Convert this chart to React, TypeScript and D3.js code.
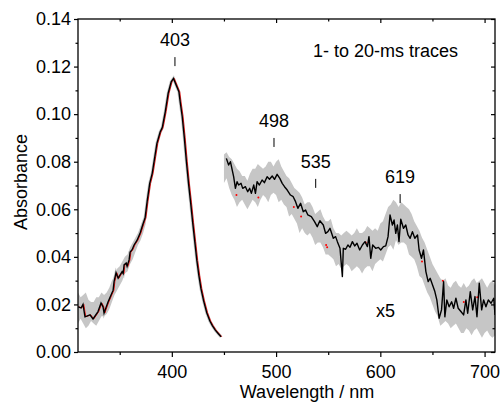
import React, { useEffect, useRef } from 'react';
import * as d3 from 'd3';

// Soret band trace (measured as is)
const soretWl = [310, 312.9, 314.8, 316.7, 321.5, 324.4, 329.2, 332.1, 334, 335, 338.8, 341.7, 343.7, 344.6, 346.5, 348.5, 350.4, 352.3, 353.3, 354.2, 356.2, 357.1, 359, 360, 361.9, 363.8, 366.7, 369.6, 372.5, 374.4, 376.3, 378.8, 381.2, 383.7, 385.7, 388.8, 390.5, 391, 393.7, 396.5, 399.4, 401.6, 404.2, 406.8, 408, 410, 412, 414, 416, 418, 420, 422, 424, 426, 428, 430.5, 433.5, 436.5, 439, 441.7, 444, 447.2];
const soretAbs = [0.019, 0.0185, 0.020, 0.0148, 0.0156, 0.0139, 0.017, 0.0206, 0.019, 0.0164, 0.021, 0.024, 0.026, 0.0296, 0.0333, 0.031, 0.0324, 0.0338, 0.033, 0.0366, 0.0374, 0.036, 0.0387, 0.042, 0.043, 0.045, 0.047, 0.050, 0.054, 0.0565, 0.0632, 0.0709, 0.0751, 0.0821, 0.0877, 0.0925, 0.094, 0.0947, 0.101, 0.1088, 0.1136, 0.115, 0.1122, 0.1094, 0.1052, 0.0989, 0.090, 0.080, 0.071, 0.063, 0.0545, 0.0465, 0.0385, 0.032, 0.0265, 0.0215, 0.0165, 0.013, 0.011, 0.0092, 0.008, 0.0064];

// spread of the 1- to 20-ms traces, Soret noisy part
const soretBandWl = [310, 312.5, 315, 317.5, 320, 322.5, 325, 327.5, 330, 332.5, 335, 337.5, 340, 342.5, 345, 347.5, 350, 352.5, 355, 357.5, 360, 362.5, 365, 367.5, 370, 372.5, 375];
const soretBandLo = [0.012, 0.014, 0.012, 0.010, 0.011, 0.013, 0.012, 0.011, 0.013, 0.015, 0.015, 0.016, 0.018, 0.021, 0.024, 0.026, 0.028, 0.030, 0.033, 0.034, 0.037, 0.039, 0.042, 0.045, 0.047, 0.050, 0.054];
const soretBandHi = [0.025, 0.023, 0.024, 0.025, 0.022, 0.021, 0.021, 0.023, 0.023, 0.025, 0.024, 0.025, 0.027, 0.030, 0.032, 0.035, 0.036, 0.038, 0.040, 0.041, 0.044, 0.046, 0.048, 0.050, 0.053, 0.056, 0.058];

// visible region trace (x5)
const visWl = [452.3, 454.5, 456.2, 459.3, 461, 462.6, 464.1, 466.4, 468, 470.6, 472.8, 474.7, 476.3, 478.6, 480.2, 481.8, 484, 486.6, 488.8, 491.4, 493.7, 496.3, 498.5, 501, 503.6, 505.9, 508.1, 510.7, 513.8, 516.4, 518.7, 520.9, 523.5, 526.1, 528.3, 530.5, 533.8, 536.9, 539.5, 542, 545.3, 547.5, 549.7, 551.7, 554.9, 557.1, 558.8, 561.3, 563.6, 564.5, 566.7, 568.9, 570.9, 573.2, 575.4, 577.6, 580.2, 582.8, 585.3, 587.6, 589.1, 590.8, 592.7, 595.6, 598.2, 600.4, 603, 605.2, 607.4, 609.3, 611.6, 613.2, 614.8, 616.4, 617.9, 619.6, 622.2, 624.4, 626.6, 628.6, 630.8, 633.1, 635.7, 637.2, 639.5, 641.4, 643.7, 645.9, 647.8, 650.1, 652.3, 654.2, 656.4, 658.7, 660.7, 661.9, 663.8, 666, 668.4, 670.3, 672.5, 674.7, 677.3, 679.9, 682.1, 683.8, 686.3, 688.6, 690.8, 692.7, 694.9, 697.2, 699.1, 701.3, 703.6, 706.2, 708.8, 710];
const visAbs = [0.0814, 0.0786, 0.080, 0.0737, 0.0688, 0.0716, 0.0702, 0.0709, 0.0688, 0.0695, 0.0674, 0.0688, 0.0667, 0.0702, 0.0667, 0.0716, 0.0702, 0.0723, 0.0712, 0.0737, 0.0726, 0.074, 0.0726, 0.0747, 0.073, 0.0709, 0.0695, 0.0681, 0.066, 0.0653, 0.0632, 0.0604, 0.0625, 0.059, 0.0597, 0.0576, 0.0569, 0.0548, 0.0527, 0.0552, 0.0534, 0.0499, 0.0506, 0.052, 0.0478, 0.0485, 0.0464, 0.0436, 0.0317, 0.0436, 0.0432, 0.045, 0.044, 0.0464, 0.0446, 0.0457, 0.0429, 0.045, 0.0464, 0.0443, 0.0485, 0.0394, 0.045, 0.0436, 0.044, 0.0429, 0.0443, 0.0446, 0.0485, 0.0576, 0.0534, 0.0555, 0.0499, 0.0534, 0.0464, 0.0558, 0.052, 0.0534, 0.0492, 0.0478, 0.0506, 0.0478, 0.0492, 0.0429, 0.0394, 0.0429, 0.0338, 0.0296, 0.031, 0.0282, 0.0254, 0.0219, 0.0142, 0.0177, 0.0296, 0.0148, 0.0219, 0.019, 0.0211, 0.0184, 0.0226, 0.0184, 0.017, 0.0156, 0.0219, 0.0163, 0.0254, 0.0177, 0.0233, 0.0148, 0.0289, 0.0177, 0.0219, 0.019, 0.0219, 0.0205, 0.0226, 0.0156];

const visBandWl = [450, 452.5, 455, 457.5, 460, 462.5, 465, 467.5, 470, 472.5, 475, 477.5, 480, 482.5, 485, 487.5, 490, 492.5, 495, 497.5, 500, 502.5, 505, 507.5, 510, 512.5, 515, 517.5, 520, 522.5, 525, 527.5, 530, 532.5, 535, 537.5, 540, 542.5, 545, 547.5, 550, 552.5, 555, 557.5, 560, 562.5, 565, 567.5, 570, 572.5, 575, 577.5, 580, 582.5, 585, 587.5, 590, 592.5, 595, 597.5, 600, 602.5, 605, 607.5, 610, 612.5, 615, 617.5, 620, 622.5, 625, 627.5, 630, 632.5, 635, 637.5, 640, 642.5, 645, 647.5, 650, 652.5, 655, 657.5, 660, 662.5, 665, 667.5, 670, 672.5, 675, 677.5, 680, 682.5, 685, 687.5, 690, 692.5, 695, 697.5, 700, 702.5, 705, 707.5, 710];
const visBandLo = [0.071, 0.073, 0.069, 0.066, 0.064, 0.061, 0.063, 0.064, 0.062, 0.060, 0.062, 0.064, 0.063, 0.061, 0.064, 0.066, 0.065, 0.063, 0.066, 0.067, 0.066, 0.063, 0.064, 0.062, 0.061, 0.057, 0.058, 0.056, 0.054, 0.050, 0.052, 0.050, 0.049, 0.050, 0.048, 0.045, 0.046, 0.046, 0.044, 0.041, 0.041, 0.040, 0.039, 0.036, 0.037, 0.035, 0.036, 0.037, 0.036, 0.034, 0.035, 0.036, 0.035, 0.033, 0.035, 0.036, 0.036, 0.034, 0.037, 0.038, 0.039, 0.038, 0.041, 0.044, 0.045, 0.043, 0.047, 0.045, 0.046, 0.046, 0.045, 0.041, 0.040, 0.039, 0.036, 0.032, 0.031, 0.028, 0.025, 0.023, 0.020, 0.017, 0.015, 0.011, 0.012, 0.013, 0.012, 0.010, 0.011, 0.012, 0.010, 0.008, 0.008, 0.010, 0.009, 0.007, 0.009, 0.010, 0.008, 0.006, 0.008, 0.009, 0.007, 0.006, 0.007];
const visBandHi = [0.083, 0.084, 0.082, 0.081, 0.079, 0.077, 0.076, 0.074, 0.074, 0.072, 0.075, 0.077, 0.077, 0.079, 0.078, 0.077, 0.078, 0.080, 0.080, 0.078, 0.080, 0.081, 0.078, 0.076, 0.074, 0.073, 0.071, 0.069, 0.068, 0.067, 0.065, 0.062, 0.063, 0.063, 0.061, 0.058, 0.059, 0.060, 0.057, 0.055, 0.055, 0.056, 0.052, 0.050, 0.050, 0.049, 0.050, 0.051, 0.050, 0.049, 0.050, 0.052, 0.050, 0.050, 0.051, 0.053, 0.052, 0.051, 0.052, 0.051, 0.054, 0.055, 0.058, 0.061, 0.062, 0.064, 0.063, 0.061, 0.063, 0.062, 0.061, 0.060, 0.058, 0.055, 0.053, 0.051, 0.048, 0.046, 0.043, 0.040, 0.037, 0.035, 0.033, 0.031, 0.030, 0.031, 0.028, 0.027, 0.029, 0.030, 0.028, 0.027, 0.029, 0.027, 0.028, 0.030, 0.031, 0.029, 0.030, 0.031, 0.029, 0.027, 0.029, 0.030, 0.028];

// red trace peeking out under the black one
const redWl = [462, 483, 517, 524, 548, 549, 586, 640, 660, 680, 693];
const redAbs = [0.066, 0.065, 0.061, 0.057, 0.045, 0.044, 0.046, 0.038, 0.030, 0.021, 0.023];

const peakLabels = ['403', '498', '535', '619'];
const peakWl = [403, 498, 538, 619];
const peakTickAbs = [0.1202, 0.0862, 0.069, 0.0626];

const xMajor = [400, 500, 600, 700];
const xMinor = [350, 450, 550, 650];
const yMajor = [0, 0.02, 0.04, 0.06, 0.08, 0.10, 0.12, 0.14];
const yMinor = [0.01, 0.03, 0.05, 0.07, 0.09, 0.11, 0.13];

function App() {
  const ref = useRef(null);

  useEffect(() => {
    drawChart();
  });

  function drawChart() {
    const width = 501;
    const height = 402;
    const margin = { top: 19, right: 6, bottom: 50, left: 78 };
    const font = '"Liberation Sans", Arial, sans-serif';
    const gray = '#c6c6c6';

    d3.select(ref.current).select('svg').remove();

    const svg = d3.select(ref.current)
      .append('svg')
      .attr('width', width)
      .attr('height', height)
      .style('position', 'absolute')
      .style('left', 0)
      .style('top', 0)
      .style('background', 'white');

    const x = d3.scaleLinear().domain([310, 710]).range([margin.left, width - margin.right]);
    const y = d3.scaleLinear().domain([0, 0.14]).range([height - margin.bottom, margin.top]);

    svg.append('clipPath').attr('id', 'plotclip')
      .append('rect')
      .attr('x', x(310)).attr('y', y(0.14))
      .attr('width', x(710) - x(310)).attr('height', y(0) - y(0.14));

    const plot = svg.append('g').attr('clip-path', 'url(#plotclip)');

    const area = (wl, lo, hi) => d3.area<number>()
      .x((i) => x(wl[i]))
      .y0((i) => y(lo[i]))
      .y1((i) => y(hi[i]))(wl.map((w, i) => i));

    const line = (wl, ab) => d3.line<number>()
      .x((i) => x(wl[i]))
      .y((i) => y(ab[i]))(wl.map((w, i) => i));

    // gray spread of the individual traces
    plot.append('path')
      .attr('d', area(soretBandWl, soretBandLo, soretBandHi))
      .attr('fill', gray);

    plot.append('path')
      .attr('d', area(visBandWl, visBandLo, visBandHi))
      .attr('fill', gray);

    // gray halo along the Soret band
    plot.append('path')
      .attr('d', line(soretWl, soretAbs))
      .attr('fill', 'none')
      .attr('stroke', gray)
      .attr('stroke-width', 3);

    // red trace (slightly shifted, barely visible)
    plot.append('path')
      .attr('d', line(soretWl, soretAbs))
      .attr('transform', 'translate(0.8,0)')
      .attr('fill', 'none')
      .attr('stroke', 'red')
      .attr('stroke-width', 0.9);

    plot.append('g')
      .selectAll('circle')
      .data(redWl)
      .enter()
      .append('circle')
        .attr('cx', (d) => x(d))
        .attr('cy', (d, i) => y(redAbs[i]))
        .attr('r', 1)
        .attr('fill', 'red');

    plot.append('path')
      .attr('d', line(soretWl, soretAbs))
      .attr('fill', 'none')
      .attr('stroke', 'black')
      .attr('stroke-width', 1.4);

    plot.append('path')
      .attr('d', line(visWl, visAbs))
      .attr('fill', 'none')
      .attr('stroke', 'black')
      .attr('stroke-width', 1.4)
      .attr('stroke-linejoin', 'round');

    // axes
    const styleAxis = (g) => {
      g.select('.domain').remove();
      g.selectAll('line').attr('stroke', 'black').attr('stroke-width', 1.2);
      g.selectAll('text').style('font-family', font).style('font-size', '18px').attr('fill', 'black');
    };

    svg.append('g')
      .attr('transform', `translate(0, ${y(0)})`)
      .call(d3.axisBottom(x).tickValues(xMajor).tickSize(5).tickPadding(8).tickFormat(d3.format('d')))
      .call(styleAxis);
    svg.append('g')
      .attr('transform', `translate(0, ${y(0)})`)
      .call(d3.axisBottom(x).tickValues(xMinor).tickSize(3).tickFormat(() => ''))
      .call(styleAxis);
    svg.append('g')
      .attr('transform', `translate(0, ${y(0.14)})`)
      .call(d3.axisTop(x).tickValues(xMajor).tickSize(-4).tickFormat(() => ''))
      .call(styleAxis);
    svg.append('g')
      .attr('transform', `translate(0, ${y(0.14)})`)
      .call(d3.axisTop(x).tickValues(xMinor).tickSize(-2.5).tickFormat(() => ''))
      .call(styleAxis);

    svg.append('g')
      .attr('transform', `translate(${x(310)}, 0)`)
      .call(d3.axisLeft(y).tickValues(yMajor).tickSize(4).tickPadding(3).tickFormat(d3.format('.2f')))
      .call(styleAxis);
    svg.append('g')
      .attr('transform', `translate(${x(310)}, 0)`)
      .call(d3.axisLeft(y).tickValues(yMinor).tickSize(2.5).tickFormat(() => ''))
      .call(styleAxis);
    svg.append('g')
      .attr('transform', `translate(${x(710)}, 0)`)
      .call(d3.axisRight(y).tickValues(yMajor).tickSize(-4).tickFormat(() => ''))
      .call(styleAxis);
    svg.append('g')
      .attr('transform', `translate(${x(710)}, 0)`)
      .call(d3.axisRight(y).tickValues(yMinor).tickSize(-2.5).tickFormat(() => ''))
      .call(styleAxis);

    // frame
    svg.append('rect')
      .attr('x', x(310)).attr('y', y(0.14))
      .attr('width', x(710) - x(310)).attr('height', y(0) - y(0.14))
      .attr('fill', 'none')
      .attr('stroke', 'black')
      .attr('stroke-width', 1.3);

    // peak labels
    const peaks = svg.append('g');
    peakLabels.forEach((lab, i) => {
      const px = x(peakWl[i]);
      const py = y(peakTickAbs[i]);
      peaks.append('line')
        .attr('x1', px).attr('x2', px)
        .attr('y1', py).attr('y2', py - 9)
        .attr('stroke', 'black').attr('stroke-width', 1);
      peaks.append('text')
        .attr('x', px).attr('y', py - 20)
        .attr('text-anchor', 'middle')
        .style('font-family', font).style('font-size', '18px')
        .text(lab);
    });

    svg.append('text')
      .attr('x', 313).attr('y', 57)
      .style('font-family', font).style('font-size', '18px')
      .text('1- to 20-ms traces');

    svg.append('text')
      .attr('x', 376).attr('y', 317)
      .style('font-family', font).style('font-size', '18px')
      .text('x5');

    svg.append('text')
      .attr('x', 307).attr('y', 398)
      .attr('text-anchor', 'middle')
      .style('font-family', font).style('font-size', '18px')
      .text('Wavelength / nm');

    svg.append('text')
      .attr('transform', 'translate(27, 182) rotate(-90)')
      .attr('text-anchor', 'middle')
      .style('font-family', font).style('font-size', '18px')
      .text('Absorbance');
  }

  return <div ref={ref} />;
}

export default App;
